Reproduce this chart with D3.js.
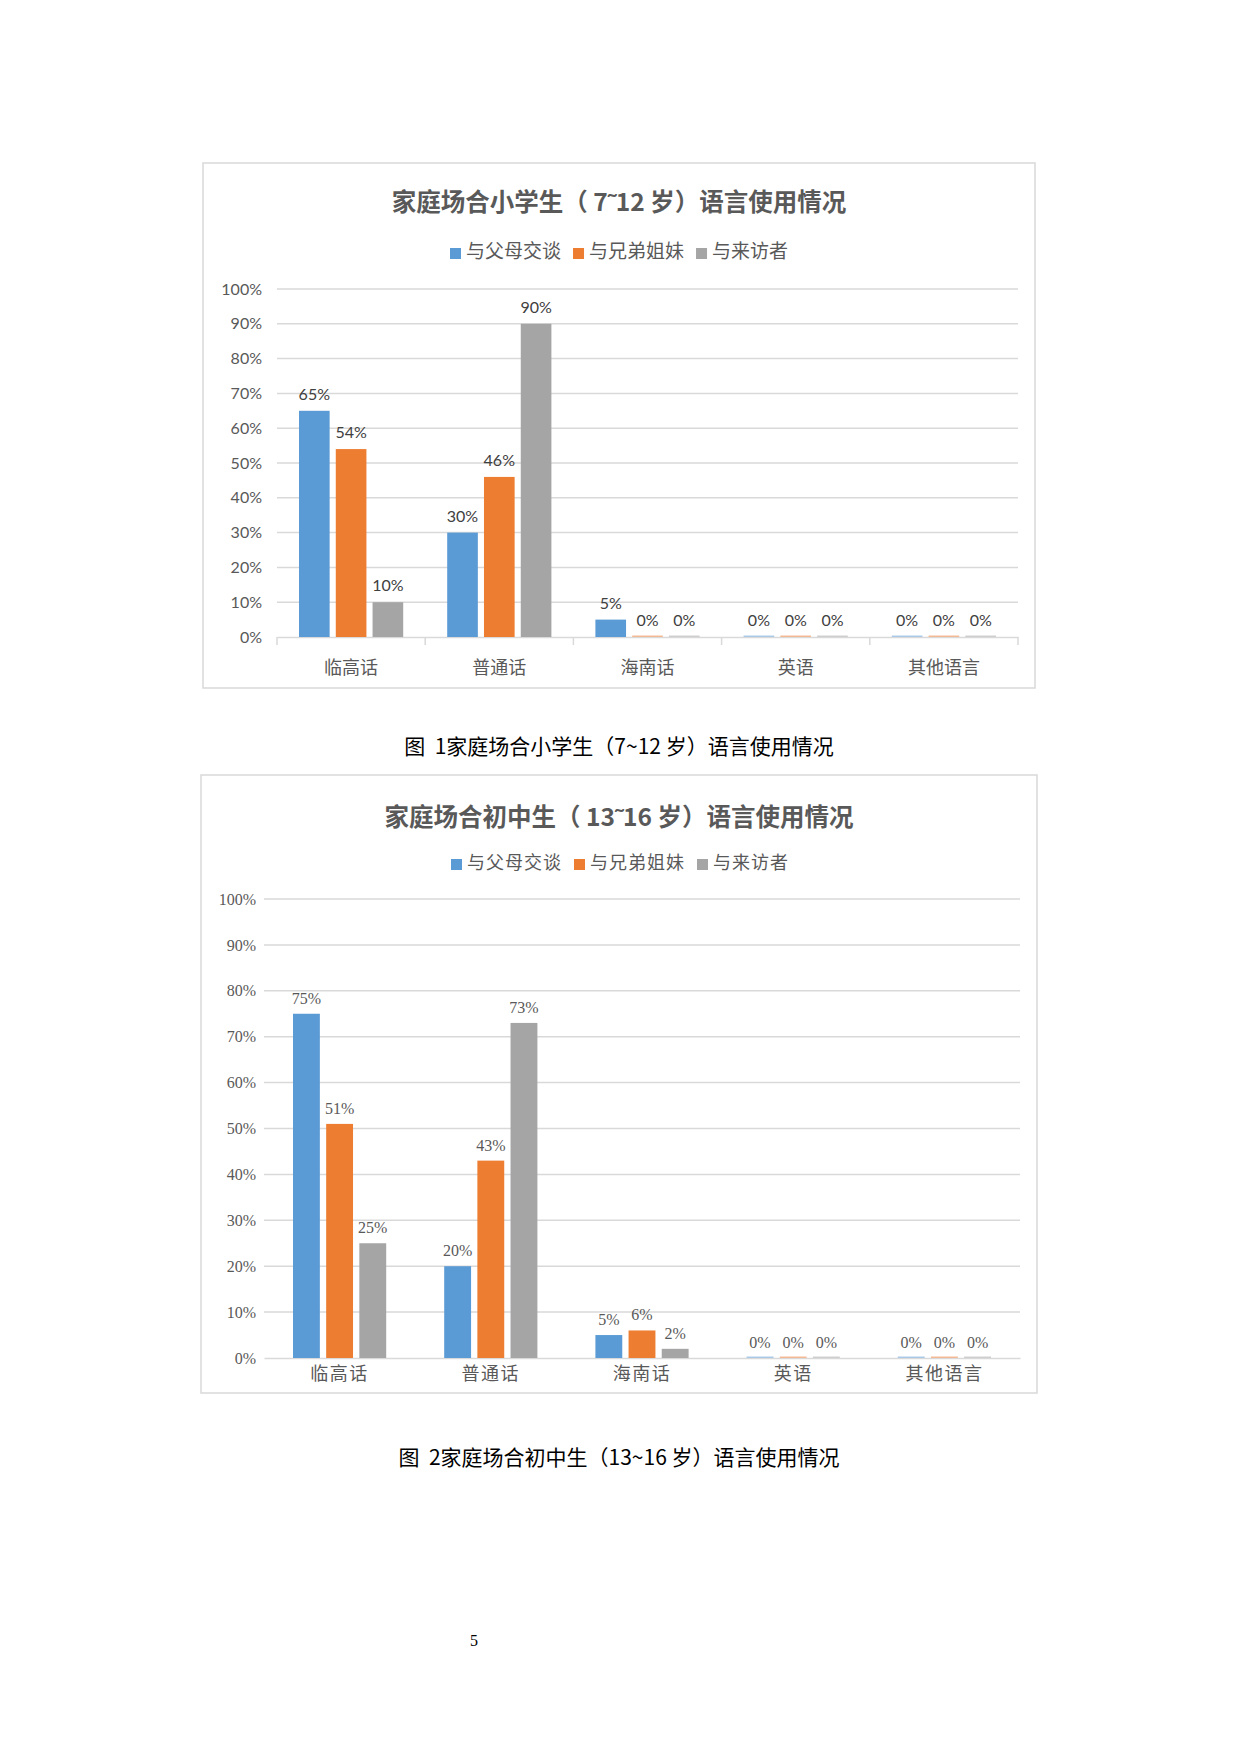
<!DOCTYPE html>
<html>
<head>
<meta charset="utf-8">
<script src="https://cdn.jsdelivr.net/npm/d3@7"></script>
<style>
  body { margin: 0; background: #fff; }
  svg { display: block; }
</style>
</head>
<body>
<div id="page"></div>
<script>
// data (percent)
const categories = ["临高话", "普通话", "海南话", "英语", "其他语言"]
const seriesNames = ["与父母交谈", "与兄弟姐妹", "与来访者"]
const yTicks = [0, 10, 20, 30, 40, 50, 60, 70, 80, 90, 100]

// 小学生 7~12
const pupilParents  = [65, 30, 5, 0, 0]
const pupilSiblings = [54, 46, 0, 0, 0]
const pupilVisitors = [10, 90, 0, 0, 0]

// 初中生 13~16
const juniorParents  = [75, 20, 5, 0, 0]
const juniorSiblings = [51, 43, 6, 0, 0]
const juniorVisitors = [25, 73, 2, 0, 0]

const colors = ["#5B9BD5", "#ED7D31", "#A5A5A5"]

const W = 1240, H = 1754
const svg = d3.select("#page").append("svg")
  .attr("width", W).attr("height", H)

const sansCJK = "Lato, 'Noto Sans CJK SC', sans-serif"
const serifCJK = "'Liberation Serif', 'Noto Sans CJK SC', serif"

function drawChart(opt) {
  const g = svg.append("g")

  // outer frame
  g.append("rect")
    .attr("x", opt.box[0]).attr("y", opt.box[1])
    .attr("width", opt.box[2] - opt.box[0]).attr("height", opt.box[3] - opt.box[1])
    .attr("fill", "#fff").attr("stroke", "#D9D9D9").attr("stroke-width", 1.5)

  const cx = (opt.box[0] + opt.box[2]) / 2

  g.append("text")
    .attr("x", cx).attr("y", opt.titleY)
    .attr("text-anchor", "middle").attr("dominant-baseline", "middle")
    .attr("font-family", "'Noto Sans CJK SC', sans-serif")
    .attr("font-weight", "bold")
    .attr("font-size", 24.5).attr("fill", "#595959")
    .text(opt.title)

  // legend
  const legend = g.append("g").attr("transform", "translate(" + opt.legendX + "," + opt.legendY + ")")
  let lx = 0
  seriesNames.forEach((name, i) => {
    legend.append("rect").attr("x", lx).attr("y", -5.5).attr("width", 11).attr("height", 11)
      .attr("fill", colors[i])
    const t = legend.append("text")
      .attr("x", lx + 16).attr("y", 0)
      .attr("dominant-baseline", "middle")
      .attr("font-family", opt.font).attr("font-size", opt.legendSize).attr("fill", "#595959")
      .attr("letter-spacing", opt.legendSpacing)
      .text(name)
    lx += 16 + t.node().getComputedTextLength() + opt.legendGap
  })

  const x = d3.scaleBand().domain(categories).range([opt.plot[0], opt.plot[2]])
  const x1 = d3.scaleBand().domain(seriesNames)
    .range([opt.groupPad, x.bandwidth() - opt.groupPad])
    .paddingInner(opt.barPad)
  const y = d3.scaleLinear().domain([0, 100]).range([opt.plot[3], opt.plot[1]])

  // gridlines
  g.append("g").selectAll("line").data(yTicks.slice(1)).join("line")
    .attr("x1", opt.plot[0]).attr("x2", opt.plot[2])
    .attr("y1", d => y(d)).attr("y2", d => y(d))
    .attr("stroke", "#D9D9D9").attr("stroke-width", 1.5)

  // y labels
  const yAxis = g.append("g")
    .attr("transform", "translate(" + opt.yLabelX + ",0)")
    .call(d3.axisLeft(y).tickValues(yTicks).tickSize(0).tickPadding(0).tickFormat(d => d + "%"))
  yAxis.select(".domain").remove()
  yAxis.selectAll("text")
    .attr("font-family", opt.numFont).attr("font-size", 16).attr("fill", "#595959")
    .attr("text-anchor", "end")

  // category axis
  const xAxis = g.append("g")
    .attr("transform", "translate(0," + opt.plot[3] + ")")
    .call(d3.axisBottom(x).tickSize(0).tickPadding(opt.catPad))
  xAxis.select(".domain").attr("stroke", "#D9D9D9").attr("stroke-width", 1.5)
  xAxis.selectAll("text")
    .attr("font-family", opt.font).attr("font-size", 18).attr("fill", "#595959")
    .attr("letter-spacing", opt.catSpacing)
  if (opt.tickMarks) {
    const bounds = categories.map(c => x(c)).concat([opt.plot[2]])
    xAxis.append("g").selectAll("line").data(bounds).join("line")
      .attr("x1", d => d).attr("x2", d => d)
      .attr("y1", 0).attr("y2", 8)
      .attr("stroke", "#D9D9D9").attr("stroke-width", 1.5)
  }

  // bars
  const rows = []
  opt.series.forEach((vals, si) => {
    vals.forEach((v, ci) => rows.push({ cat: categories[ci], s: seriesNames[si], si: si, v: v }))
  })

  g.append("g").selectAll("rect").data(rows).join("rect")
    .attr("x", d => x(d.cat) + x1(d.s))
    .attr("width", x1.bandwidth())
    .attr("y", d => Math.min(y(d.v), y(0) - 1.5))
    .attr("height", d => Math.max(y(0) - y(d.v), 1.5))
    .attr("fill", d => colors[d.si])
    .attr("opacity", d => d.v === 0 ? 0.5 : 1)

  g.append("g").selectAll("text").data(rows).join("text")
    .attr("x", d => x(d.cat) + x1(d.s) + x1.bandwidth() / 2)
    .attr("y", d => y(d.v) - opt.labelGap)
    .attr("text-anchor", "middle")
    .attr("font-family", opt.numFont).attr("font-size", 16).attr("fill", opt.labelColor)
    .text(d => d.v + "%")
}

drawChart({
  box: [203, 163, 1035, 688],
  title: "家庭场合小学生（ 7˜12 岁）语言使用情况",
  titleY: 204.5,
  legendX: 450, legendY: 253.5, legendGap: 12, legendSpacing: 0, legendSize: 19,
  plot: [277, 289, 1018, 637],
  yLabelX: 262,
  groupPad: 22, barPad: 0.167,
  catPad: 24, catSpacing: 0,
  tickMarks: true,
  labelGap: 11, labelColor: "#404040",
  font: sansCJK, numFont: "Lato, sans-serif",
  series: [pupilParents, pupilSiblings, pupilVisitors]
})

drawChart({
  box: [201, 775, 1037, 1393],
  title: "家庭场合初中生（ 13˜16 岁）语言使用情况",
  titleY: 819.5,
  legendX: 451, legendY: 864.5, legendGap: 12, legendSpacing: 1, legendSize: 18,
  plot: [264, 899, 1020, 1358],
  yLabelX: 256,
  groupPad: 29, barPad: 0.19,
  catPad: 9, catSpacing: 1.5,
  tickMarks: false,
  labelGap: 10, labelColor: "#595959",
  font: serifCJK, numFont: "'Liberation Serif', serif",
  series: [juniorParents, juniorSiblings, juniorVisitors]
})

// figure captions and page number
svg.append("text").attr("x", 619).attr("y", 748.5)
  .attr("text-anchor", "middle").attr("dominant-baseline", "middle")
  .attr("font-family", "'Noto Sans CJK SC', sans-serif").attr("font-size", 21).attr("fill", "#000")
  .attr("xml:space", "preserve")
  .text("图  1家庭场合小学生（7~12 岁）语言使用情况")

svg.append("text").attr("x", 619).attr("y", 1459.5)
  .attr("text-anchor", "middle").attr("dominant-baseline", "middle")
  .attr("font-family", "'Noto Sans CJK SC', sans-serif").attr("font-size", 21).attr("fill", "#000")
  .attr("xml:space", "preserve")
  .text("图  2家庭场合初中生（13~16 岁）语言使用情况")

svg.append("text").attr("x", 474).attr("y", 1642)
  .attr("text-anchor", "middle").attr("dominant-baseline", "middle")
  .attr("font-family", "'Liberation Serif', serif").attr("font-size", 16).attr("fill", "#000")
  .text("5")
</script>
</body>
</html>
